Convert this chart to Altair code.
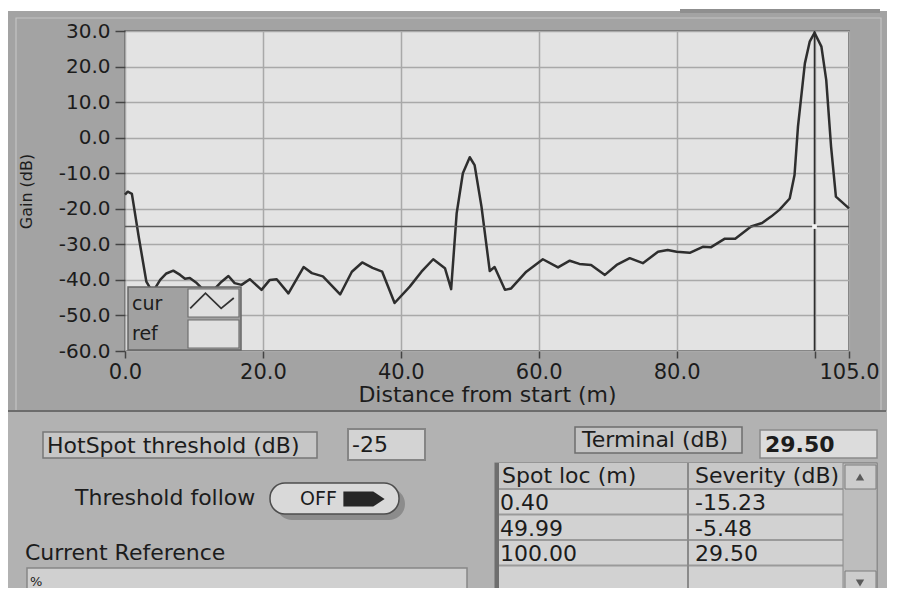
import altair as alt
import pandas as pd

# ---------------- data ----------------
dist = [0.0, 0.4, 1.0, 2.0, 3.1, 4.0, 5.1, 6.0, 7.0, 8.0, 8.7, 9.4, 10.4, 11.5, 13.0,
        14.0, 15.0, 15.9, 16.9, 18.1, 19.8, 21.0, 22.0, 23.7, 25.9, 27.1, 28.7, 31.2,
        32.9, 34.4, 35.9, 37.3, 39.1, 41.3, 43.0, 44.7, 46.4, 47.3, 48.1, 49.0, 50.0,
        50.7, 51.7, 52.9, 53.6, 55.1, 56.0, 58.2, 60.6, 62.8, 64.5, 65.9, 67.6, 69.6,
        71.3, 73.2, 75.1, 77.3, 78.7, 80.0, 81.9, 83.8, 85.0, 87.0, 88.5, 90.8, 92.4,
        93.7, 94.9, 96.4, 97.1, 97.6, 98.6, 99.3, 100.0, 101.0, 101.7, 102.4, 103.1, 105.0]
gain = [-16.0, -15.2, -15.8, -28.0, -40.5, -43.5, -40.0, -38.2, -37.4, -38.6, -39.7, -39.5,
        -40.9, -43.0, -42.5, -40.5, -38.9, -40.9, -41.4, -39.8, -42.8, -40.0, -39.8, -43.8,
        -36.4, -38.1, -39.0, -44.1, -37.7, -35.1, -36.6, -37.7, -46.5, -41.9, -37.7, -34.2,
        -36.7, -42.6, -21.3, -10.0, -5.5, -7.7, -19.4, -37.5, -36.4, -42.8, -42.4, -37.7,
        -34.2, -36.5, -34.6, -35.5, -35.8, -38.6, -35.8, -33.9, -35.3, -32.1, -31.6, -32.1,
        -32.4, -30.7, -30.8, -28.4, -28.4, -25.0, -24.0, -22.2, -20.3, -17.1, -10.5, 3.1,
        20.9, 27.0, 29.5, 25.6, 16.2, -2.5, -16.6, -19.9]
threshold = [-25]
cursor_x = [100]
x_ticks = [0, 20, 40, 60, 80, 100, 105]
y_ticks = [-60, -50, -40, -30, -20, -10, 0, 10, 20, 30]
legend_labels = ["cur", "ref"]
table_headers = ["Spot loc (m)", "Severity (dB)"]
spot_loc = ["0.40", "49.99", "100.00", ""]
severity = ["-15.23", "-5.48", "29.50", ""]
hotspot_label = "HotSpot threshold (dB)"
hotspot_value = "-25"
follow_label = "Threshold follow"
follow_state = "OFF"
terminal_label = "Terminal (dB)"
terminal_value = "29.50"
reference_label = "Current Reference"
reference_value = "%"

FONT = "DejaVu Sans"
FRAME = "#a3a3a3"
PANEL = "#b2b2b2"
PLOT = "#e3e3e3"
GRID = "#a9a9a9"
INK = "#1c1c1c"

OX, OY = 125, 31  # page position of the plot-area origin
one = pd.DataFrame({"k": [0]})


def box(x0, y0, x1, y1, fill, stroke=None, sw=1.0, radius=0, opacity=1.0):
    kw = dict(fill=fill, fillOpacity=opacity, cornerRadius=radius)
    if stroke is not None:
        kw["stroke"] = stroke
        kw["strokeWidth"] = sw
    else:
        kw["strokeWidth"] = 0
    return alt.Chart(one).mark_rect(**kw).encode(
        x=alt.value(x0 - OX), x2=alt.value(x1 - OX),
        y=alt.value(y0 - OY), y2=alt.value(y1 - OY))


def label(txt, x, y, size=22, align="left", weight="normal", color=INK):
    return alt.Chart(one).mark_text(
        text=txt, align=align, baseline="middle", fontSize=size, font=FONT,
        fontWeight=weight, color=color).encode(x=alt.value(x - OX), y=alt.value(y - OY))


def glyph(path, x, y, size, fill, filled=True, stroke=None, sw=1.0):
    kw = dict(shape=path, size=size, filled=filled, opacity=1)
    if filled:
        kw["fill"] = fill
        kw["strokeWidth"] = 0
    else:
        kw["stroke"] = stroke
        kw["strokeWidth"] = sw
    return alt.Chart(one).mark_point(**kw).encode(x=alt.value(x - OX), y=alt.value(y - OY))


def rows_text(values, x, y0, pitch, size=22, color=INK):
    df = pd.DataFrame({"row": list(range(len(values))), "txt": values})
    return alt.Chart(df).mark_text(
        align="left", baseline="middle", fontSize=size, font=FONT, color=color
    ).transform_calculate(
        dy=f"datum.row * {pitch}"
    ).encode(
        x=alt.value(x - OX),
        y=alt.value(y0 - OY),
        yOffset=alt.YOffset("dy:Q", scale=None),
        text="txt:N")


# ---------------- the graph ----------------
curve = pd.DataFrame({"dist": dist, "gain": gain})

x_axis = alt.Axis(values=x_ticks, title="Distance from start (m)",
                  labelExpr="datum.value == 100 ? '' : format(datum.value, '.1f')",
                  labelFontSize=21, tickSize=7, labelPadding=3,
                  labelOverlap=False, labelFlush=False,
                  titleFontSize=22, titlePadding=2)
y_axis = alt.Axis(values=y_ticks, tickCount=10, title="Gain (dB)",
                  labelExpr="replace(format(datum.value, '.1f'), '\u2212', '-')",
                  labelFontSize=20, tickSize=10, labelPadding=5,
                  labelOverlap=False, labelFlush=False,
                  titleFontSize=16, titlePadding=24)
x_scale = alt.Scale(domain=[0, 105], nice=False, zero=False)
y_scale = alt.Scale(domain=[-60, 30], nice=False, zero=False)


def xe():
    return alt.X("dist:Q", scale=x_scale, axis=x_axis)


def ye():
    return alt.Y("gain:Q", scale=y_scale, axis=y_axis)


line = alt.Chart(curve).mark_line(color="#2e2e2e", strokeWidth=2.5, strokeJoin="round").encode(
    x=xe(), y=ye())

thr = alt.Chart(pd.DataFrame({"gain": threshold})).mark_rule(
    color="#595959", strokeWidth=1.6).encode(y=ye())
cur = alt.Chart(pd.DataFrame({"dist": cursor_x})).mark_rule(
    color="#2e2e2e", strokeWidth=1.6).encode(x=xe())
cross = alt.Chart(pd.DataFrame({"dist": cursor_x, "gain": threshold})).mark_point(
    shape="square", size=22, filled=True, fill="#f4f4f4", strokeWidth=0, opacity=1
).encode(x=xe(), y=ye())

# legend (cur / ref)
legend = [
    box(128, 287, 241, 350, "#a1a1a1", "#666666", 1.5),
    box(188, 289, 239, 317, "#e0e0e0", "#6e6e6e", 1.2),
    box(188, 320, 239, 348, "#e0e0e0", "#6e6e6e", 1.2),
    rows_text(legend_labels, 132, 304, 30, size=19),
    glyph("M-1,0.34L-0.3,-0.36L0.42,0.34L1,-0.14", 212, 301, 1900, None,
          filled=False, stroke="#333333", sw=1.8),
]

# ---------------- frame / panels ----------------
frame = [
    box(8, 8, 890, 11, "#ffffff"),
    box(16, 18, 881, 411, FRAME, "#c4c4c4", 1.2, opacity=0),
    box(680, 9, 880, 13, "#8f8f8f"),
    box(8, 411, 890, 600, PANEL),
    box(8, 410, 886, 412, "#6c6c6c"),
]

# ---------------- controls ----------------
controls = [
    box(43, 432, 317, 458, "#c6c6c6", "#777777", 1.5),
    label(hotspot_label, 47, 446),
    box(348, 429, 425, 460, "#d3d3d3", "#858585", 2),
    label(hotspot_value, 352, 445),
    label(follow_label, 75, 498),
    box(276, 488, 405, 520, "#8c8c8c", radius=16),
    box(270, 483, 399, 514, "#d9d9d9", "#4d4d4d", 1.5, radius=15),
    label(follow_state, 300, 499, size=19),
    glyph("M-1,-0.36L0.45,-0.36L1,0L0.45,0.36L-1,0.36Z", 364, 499, 1700, "#262626"),
    label(reference_label, 25, 553),
    box(27, 568, 467, 600, "#d0d0d0", "#878787", 1.5),
    label(reference_value, 30, 582, size=13),
    box(575, 427, 742, 453, "#c3c3c3", "#6d6d6d", 1.5),
    label(terminal_label, 582, 440),
    box(760, 430, 877, 458, "#dcdcdc", "#8a8a8a", 1.5),
    label(terminal_value, 765, 445, weight="bold"),
]

# table
pitch = 25.5
table = [
    box(495, 463, 877, 600, "#d2d2d2", "#7a7a7a", 1.2),
    box(495, 463, 843, 489, "#c8c8c8"),
    box(495, 463, 499, 600, "#6e6e6e"),
]
for i in range(5):
    yy = 489 + i * pitch
    table.append(box(499, yy - 1, 843, yy + 1, "#9a9a9a"))
table.append(box(687, 463, 689, 600, "#8a8a8a"))
table += [
    rows_text([table_headers[0]], 502, 476, pitch),
    rows_text([table_headers[1]], 695, 476, pitch),
    rows_text(spot_loc, 500, 503, pitch),
    rows_text(severity, 695, 503, pitch),
    box(843, 463, 877, 600, "#bdbdbd", "#8a8a8a", 1),
    box(845, 465, 876, 489, "#cdcdcd", "#7d7d7d", 1),
    glyph("triangle-up", 860, 477, 70, "#5a5a5a"),
    box(845, 571, 876, 595, "#cdcdcd", "#7d7d7d", 1),
    glyph("triangle-down", 860, 583, 70, "#5a5a5a"),
]

chart = alt.layer(
    *frame, line, thr, cur, cross, *legend, *controls, *table
).properties(
    width=724, height=320,
    padding={"left": 117, "top": 23, "right": 38, "bottom": 237},
    autosize=alt.AutoSizeParams(type="none"),
    background=FRAME,
).configure_view(
    fill=PLOT, stroke="#5a5a5a", strokeWidth=1.5
).configure_axis(
    labelFont=FONT, titleFont=FONT, labelColor=INK, titleColor=INK,
    titleFontWeight="normal", tickColor="#444444", tickWidth=1.5,
    grid=True, gridColor=GRID, gridWidth=1.5, domain=False,
)

chart.save("out.html", embed_options={"renderer": "svg", "actions": False})
